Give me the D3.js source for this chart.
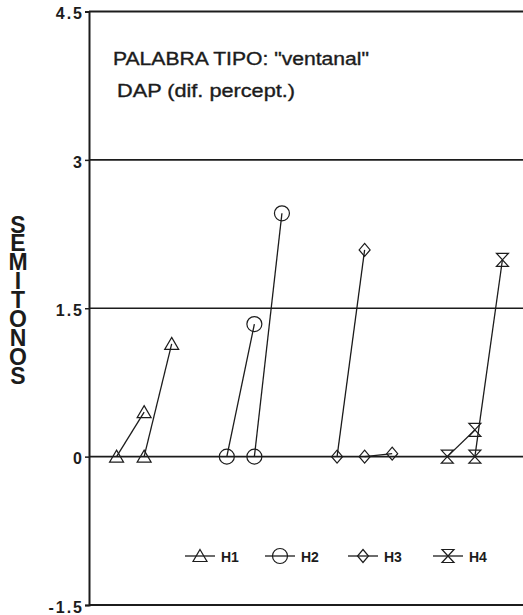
<!DOCTYPE html>
<html lang="es">
<head>
  <meta charset="UTF-8" />
  <title>DAP ventanal</title>
  <script src="https://cdn.jsdelivr.net/npm/d3@7/dist/d3.min.js"></script>
  <style>
    body { margin: 0; background: #fff; font-family: "Liberation Sans", Arial, sans-serif; }
    #viz { width: 523px; height: 615px; overflow: hidden; }
    #viz .tick text { font-size: 16px; font-weight: bold; letter-spacing: 2px; }
  </style>
</head>
<body>
  <div id="viz"></div>

  <script>
  // Datos
  const seriesNames = ['H1', 'H2', 'H3', 'H4'];
  const slotStart   = [0, 4, 8, 12];          // primera posición de cada grupo
  const rise1       = [0.45, 1.34, 2.09, 0.27];
  const rise2       = [1.14, 2.46, 0.03, 1.99];
  const yTicks      = [-1.5, 0, 1.5, 3, 4.5];
  const yTickLabels = ['-1.5', '0', '1.5', '3', '4.5'];
  const titleLines  = ['PALABRA TIPO: "ventanal"', 'DAP (dif. percept.)'];
  const yLabel      = 'SEMITONOS';

  const markers = {
    H1: 'M0,-6.5L7,5.5L-7,5.5Z',
    H2: d3.symbol(d3.symbolCircle, Math.PI * 7.5 * 7.5)(),
    H3: 'M0,-6.5L5.5,0L0,6.5L-5.5,0Z',
    H4: 'M-6,-6.5L6,-6.5L-6,6.5L6,6.5Z'
  };

  // el escaneo original tiene la letra más ancha
  function fitWidth(sel, w) {
    sel.attr('textLength', w).attr('lengthAdjust', 'spacingAndGlyphs');
  }

  function drawViz() {
    const W = 523, H = 615;
    const svg = d3.select('#viz').append('svg')
      .attr('width', W).attr('height', H);

    const x = d3.scaleLinear().domain([-1, 15]).range([89, 530]);
    const y = d3.scaleLinear().domain([-1.5, 4.5]).range([605, 11.5]);
    const ink = '#1c1c1c';

    // Líneas horizontales (marco y referencias)
    svg.selectAll('line.grid')
      .data(yTicks)
      .enter().append('line')
        .attr('class', 'grid')
        .attr('x1', x(-1)).attr('x2', x(15))
        .attr('y1', d => y(d)).attr('y2', d => y(d))
        .attr('stroke', ink)
        .attr('stroke-width', d => (d === 4.5 || d === -1.5) ? 2 : 1.6);

    // Eje izquierdo
    const axis = svg.append('g')
      .attr('transform', `translate(${x(-1)},0)`)
      .call(d3.axisLeft(y)
        .tickValues(yTicks)
        .tickSize(4)
        .tickPadding(1)
        .tickFormat((d, i) => yTickLabels[i]));
    axis.attr('font-size', null).attr('font-family', null);
    axis.select('.domain').attr('stroke', ink).attr('stroke-width', 2);
    axis.selectAll('.tick line').attr('stroke', ink).attr('stroke-width', 1.5);
    axis.selectAll('.tick text')
      .attr('fill', ink)
      .attr('dy', '0.45em');

    // Título
    const t = svg.append('g').attr('fill', ink)
      .attr('stroke', ink).attr('stroke-width', 0.35)
      .style('font-size', '17.5px');
    t.append('text').attr('x', 113).attr('y', 65).text(titleLines[0]).call(fitWidth, 256);
    t.append('text').attr('x', 117).attr('y', 97).text(titleLines[1]).call(fitWidth, 178);

    // Rótulo vertical (letras apiladas, un solo texto)
    const pitch = 18.9;
    const yl = svg.append('text')
      .attr('x', 18)
      .attr('y', 221 - pitch / 2)
      .style('writing-mode', 'vertical-rl')
      .style('text-orientation', 'upright')
      .style('font-size', '23px')
      .style('font-weight', 'bold')
      .attr('fill', ink)
      .text(yLabel);
    const natural = yl.node().getComputedTextLength() / yLabel.length;
    yl.style('letter-spacing', (pitch - natural) + 'px');

    // Segmentos de datos
    const segs = [];
    seriesNames.forEach((name, k) => {
      const s = slotStart[k];
      segs.push({ name, x0: s,     y0: 0, x1: s + 1, y1: rise1[k] });
      segs.push({ name, x0: s + 1, y0: 0, x1: s + 2, y1: rise2[k] });
    });

    const plot = svg.append('g');
    plot.selectAll('line.seg')
      .data(segs)
      .enter().append('line')
        .attr('class', 'seg')
        .attr('x1', d => x(d.x0)).attr('y1', d => y(d.y0))
        .attr('x2', d => x(d.x1)).attr('y2', d => y(d.y1))
        .attr('stroke', ink)
        .attr('stroke-width', 1.3);

    const pts = segs.flatMap(d => [
      { name: d.name, x: d.x0, y: d.y0 },
      { name: d.name, x: d.x1, y: d.y1 }
    ]);
    plot.selectAll('path.mk')
      .data(pts)
      .enter().append('path')
        .attr('class', 'mk')
        .attr('transform', d => `translate(${x(d.x)},${y(d.y)})`)
        .attr('d', d => markers[d.name])
        .attr('fill', 'none')
        .attr('stroke', ink)
        .attr('stroke-width', 1.2);

    // Leyenda
    const legendX = [200, 280, 363, 448];
    const legY = 556;
    const leg = svg.append('g')
      .selectAll('g')
      .data(seriesNames)
      .enter().append('g')
        .attr('transform', (d, i) => `translate(${legendX[i]},${legY})`);
    leg.append('line')
      .attr('x1', -15).attr('x2', 15)
      .attr('stroke', ink).attr('stroke-width', 1.3);
    leg.append('path')
      .attr('d', d => markers[d])
      .attr('fill', 'none')
      .attr('stroke', ink)
      .attr('stroke-width', 1.2);
    leg.append('text')
      .attr('x', 21).attr('y', 5.5)
      .style('font-size', '14px')
      .style('font-weight', 'bold')
      .attr('fill', ink)
      .text(d => d);
  }

  document.addEventListener('DOMContentLoaded', drawViz);
  </script>
</body>
</html>
